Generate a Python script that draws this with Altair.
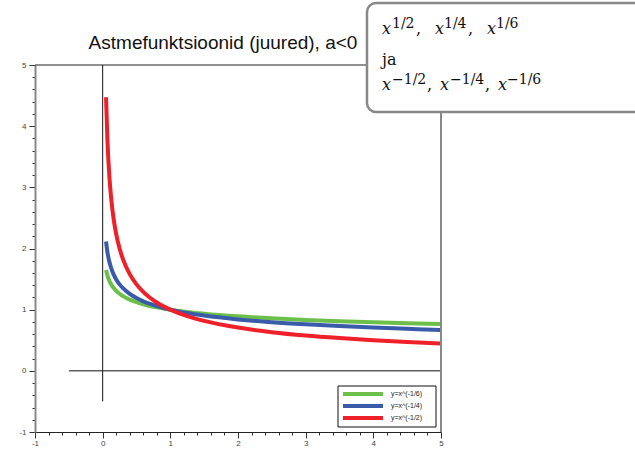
import altair as alt
import pandas as pd

# ---- data ----
x_vals = [0.05, 0.07, 0.1, 0.13, 0.16, 0.2, 0.25, 0.3, 0.4, 0.5, 0.6, 0.7, 0.8, 0.9,
          1.0, 1.25, 1.5, 2.0, 2.5, 3.0, 3.5, 4.0, 4.5, 5.0]
y_m16 = [1.648, 1.558, 1.468, 1.405, 1.357, 1.308, 1.260, 1.222, 1.165, 1.122, 1.089, 1.061, 1.038, 1.018,
         1.0, 0.963, 0.935, 0.891, 0.858, 0.833, 0.812, 0.794, 0.778, 0.765]
y_m14 = [2.115, 1.944, 1.778, 1.666, 1.581, 1.495, 1.414, 1.351, 1.257, 1.189, 1.136, 1.093, 1.057, 1.027,
         1.0, 0.946, 0.904, 0.841, 0.795, 0.760, 0.731, 0.707, 0.687, 0.669]
y_m12 = [4.472, 3.780, 3.162, 2.774, 2.500, 2.236, 2.000, 1.826, 1.581, 1.414, 1.291, 1.195, 1.118, 1.054,
         1.0, 0.894, 0.816, 0.707, 0.632, 0.577, 0.535, 0.500, 0.471, 0.447]
series_names = ["y=x^(-1/6)", "y=x^(-1/4)", "y=x^(-1/2)"]
series_colors = ["#6cc04a", "#3a5baa", "#ef2029"]
tick_values = [round(-1 + 0.2 * i, 1) for i in range(31)]
title_text = "Astmefunktsioonid (juured), a<0"

W, H = 406, 367

rows = []
for name, ys in zip(series_names, [y_m16, y_m14, y_m12]):
    for xv, yv in zip(x_vals, ys):
        rows.append({"x": xv, "y": yv, "series": name})
df = pd.DataFrame(rows)

xscale = alt.Scale(domain=[-1, 5], nice=False, zero=False)
yscale = alt.Scale(domain=[-1, 5], nice=False, zero=False)

tick_cond = {"condition": {"test": "abs(datum.value - round(datum.value)) < 0.001", "value": 6}, "value": 3}
lab_expr = "abs(datum.value - round(datum.value)) < 0.001 ? '' + round(datum.value) : ''"

common = dict(values=tick_values, tickCount=100, title=None, grid=False, labelExpr=lab_expr,
              tickSize=tick_cond, labelOverlap=False,
              labelFontSize=8, labelColor="#444", labelFont="Liberation Sans", tickColor="#333")
xaxis = alt.Axis(labelFlush=False, domainColor="#222", labelPadding=1, **common)
yaxis = alt.Axis(domainColor="#888", domainWidth=2, labelPadding=3, **common)

curves = alt.Chart(df).mark_line(strokeWidth=4, interpolate="monotone").encode(
    x=alt.X("x:Q", scale=xscale, axis=xaxis),
    y=alt.Y("y:Q", scale=yscale, axis=yaxis),
    color=alt.Color("series:N", scale=alt.Scale(domain=series_names, range=series_colors), legend=None),
    detail="series:N",
)

# coordinate axes x=0 and y=0
vline = alt.Chart(pd.DataFrame({"x": [0], "y": [-0.5], "y2": [5]})).mark_rule(color="#111", strokeWidth=1).encode(
    x=alt.X("x:Q", scale=xscale, axis=xaxis), y=alt.Y("y:Q", scale=yscale, axis=yaxis), y2="y2:Q")
hline = alt.Chart(pd.DataFrame({"y": [0], "x": [-0.5], "x2": [5]})).mark_rule(color="#111", strokeWidth=1).encode(
    y=alt.Y("y:Q", scale=yscale, axis=yaxis), x=alt.X("x:Q", scale=xscale, axis=xaxis), x2="x2:Q")

one = pd.DataFrame({"a": [0]})

right_border = alt.Chart(one).mark_rule(color="#888", strokeWidth=2).encode(
    x=alt.value(W), y=alt.value(0), y2=alt.value(H))
top_border = alt.Chart(one).mark_rule(color="#222", strokeWidth=1).encode(
    x=alt.value(0), x2=alt.value(W), y=alt.value(0))

title = alt.Chart(one).mark_text(font="Liberation Sans", fontSize=19, align="center",
                                 baseline="alphabetic", color="#111").encode(
    x=alt.value(188), y=alt.value(-16), text=alt.value(title_text))

# legend (manual)
leg_df = pd.DataFrame({"label": series_names, "color": series_colors, "i": [0, 1, 2]})
leg_box = alt.Chart(one).mark_rect(fill="white", stroke="#111", strokeWidth=1).encode(
    x=alt.value(303), x2=alt.value(401), y=alt.value(321), y2=alt.value(362))
leg_lines = alt.Chart(leg_df).transform_calculate(py="329 + 12*datum.i").mark_rule(strokeWidth=4).encode(
    x=alt.value(308), x2=alt.value(348), y=alt.Y("py:Q", scale=None),
    color=alt.Color("color:N", scale=None))
leg_text = alt.Chart(leg_df).transform_calculate(py="329 + 12*datum.i").mark_text(
    font="Liberation Sans", fontSize=7, align="left", baseline="middle", color="#222").encode(
    x=alt.value(356), y=alt.Y("py:Q", scale=None), text="label:N")

# annotation box (top right)
box = alt.Chart(one).mark_rect(fill="white", stroke="#888", strokeWidth=2.5, cornerRadius=9).encode(
    x=alt.value(332), x2=alt.value(640), y=alt.value(-62), y2=alt.value(47))

pieces = pd.DataFrame([
    # text, px, py, size, style
    ("x", 347, -31, 16, "italic"), ("1/2", 357, -37, 14, "normal"), (",", 381, -31, 16, "normal"),
    ("x", 400, -31, 16, "italic"), ("1/4", 409, -37, 14, "normal"), (",", 433, -31, 16, "normal"),
    ("x", 452, -31, 16, "italic"), ("1/6", 461, -37, 14, "normal"),
    ("ja", 347, 0, 16, "normal"),
    ("x", 347, 25, 16, "italic"), ("\u22121/2", 357, 19, 14, "normal"), (",", 392, 25, 16, "normal"),
    ("x", 405, 25, 16, "italic"), ("\u22121/4", 415, 19, 14, "normal"), (",", 450, 25, 16, "normal"),
    ("x", 463, 25, 16, "italic"), ("\u22121/6", 472, 19, 14, "normal"),
], columns=["t", "px", "py", "size", "style"])

texts = []
for (size, style), grp in pieces.groupby(["size", "style"]):
    texts.append(alt.Chart(grp).mark_text(font="DejaVu Serif", fontSize=int(size), fontStyle=style,
                                          align="left", baseline="alphabetic", color="#111").encode(
        x=alt.X("px:Q", scale=None), y=alt.Y("py:Q", scale=None), text="t:N"))

chart = alt.layer(curves, vline, hline, right_border, top_border, title,
                  leg_box, leg_lines, leg_text, box, *texts).properties(
    width=W, height=H,
    padding={"left": 35, "top": 65, "right": 194, "bottom": 18},
    autosize=alt.AutoSizeParams(type="none"),
    background="white",
).configure_view(stroke=None)

chart.save("out.html", embed_options={"renderer": "svg", "actions": False})
